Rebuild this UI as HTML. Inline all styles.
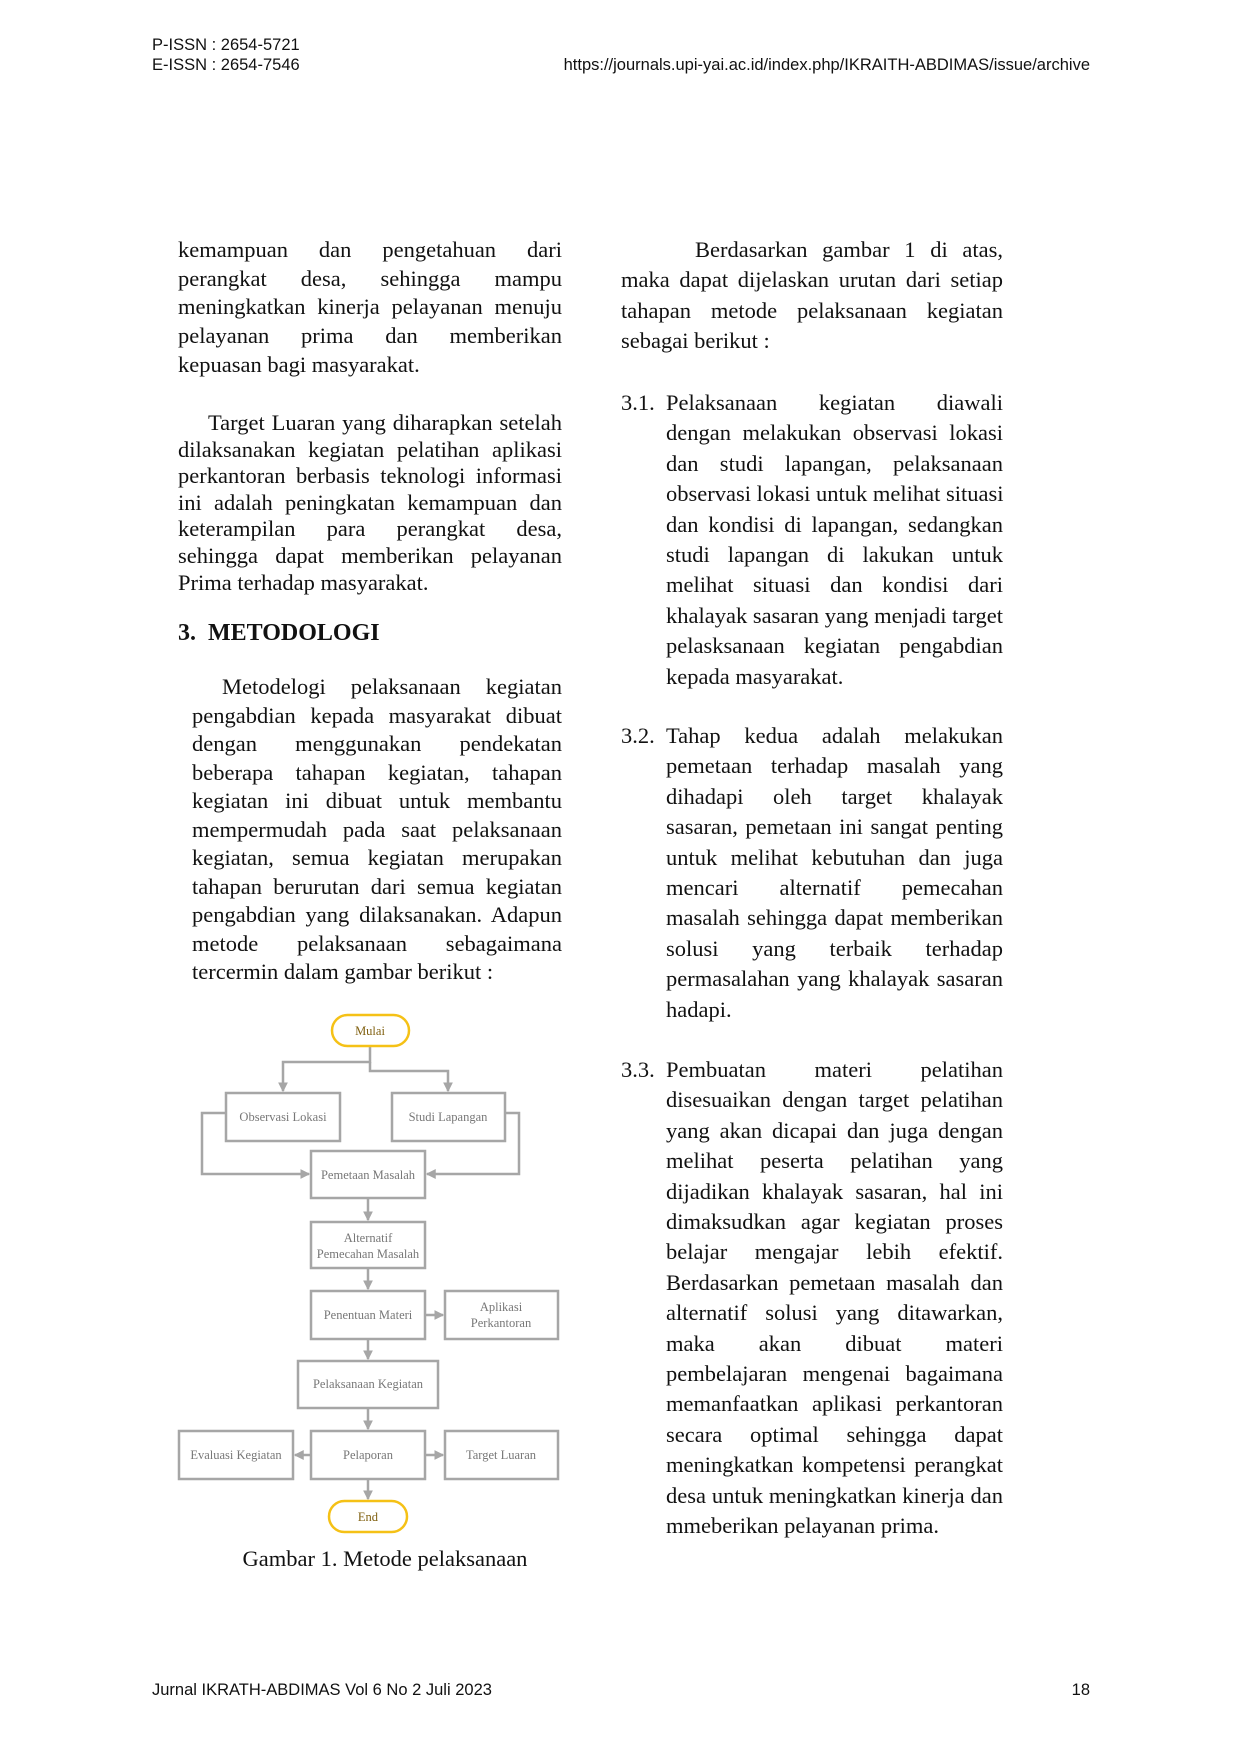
<!DOCTYPE html>
<html><head><meta charset="utf-8"><style>
body{margin:0;background:#fff}
#p{position:relative;width:1240px;height:1754px;overflow:hidden;font-family:"Liberation Serif",serif;color:#111}
.h{position:absolute;font-family:"Liberation Sans",sans-serif;font-size:16.5px;line-height:18px}
.c{position:absolute;font-size:22.5px}
.c div{text-align:justify;text-align-last:justify;white-space:nowrap}
.c div.l{text-align-last:left}
.n{position:absolute;font-size:22.5px}
</style></head><body><div id="p">
<div class="h" style="left:152px;top:36px">P-ISSN : 2654-5721</div>
<div class="h" style="left:152px;top:56px">E-ISSN : 2654-7546</div>
<div class="h" style="right:150px;top:56px">https://journals.upi-yai.ac.id/index.php/IKRAITH-ABDIMAS/issue/archive</div>
<div class="h" style="left:152px;top:1681px">Jurnal IKRATH-ABDIMAS Vol 6 No 2 Juli 2023</div>
<div class="h" style="right:150px;top:1681px">18</div>

<div class="c" style="left:178px;width:384px;top:236px;line-height:28.7px">
<div>kemampuan dan pengetahuan dari</div><div>perangkat desa, sehingga mampu</div><div>meningkatkan kinerja pelayanan menuju</div><div>pelayanan prima dan memberikan</div><div class="l">kepuasan bagi masyarakat.</div></div>

<div class="c" style="left:178px;width:384px;top:410px;line-height:26.6px">
<div style="padding-left:30px">Target Luaran yang diharapkan setelah</div><div>dilaksanakan kegiatan pelatihan aplikasi</div><div>perkantoran berbasis teknologi informasi</div><div>ini adalah peningkatan kemampuan dan</div><div>keterampilan para perangkat desa,</div><div>sehingga dapat memberikan pelayanan</div><div class="l">Prima terhadap masyarakat.</div></div>

<div style="position:absolute;left:178px;top:619px;font-size:24px;font-weight:bold;line-height:28px">3.&nbsp; METODOLOGI</div>

<div class="c" style="left:192px;width:370px;top:673px;line-height:28.5px">
<div style="padding-left:30px">Metodelogi pelaksanaan kegiatan</div><div>pengabdian kepada masyarakat dibuat</div><div>dengan menggunakan pendekatan</div><div>beberapa tahapan kegiatan, tahapan</div><div>kegiatan ini dibuat untuk membantu</div><div>mempermudah pada saat pelaksanaan</div><div>kegiatan, semua kegiatan merupakan</div><div>tahapan berurutan dari semua kegiatan</div><div>pengabdian yang dilaksanakan. Adapun</div><div>metode pelaksanaan sebagaimana</div><div class="l">tercermin dalam gambar berikut :</div></div>

<svg style="position:absolute;left:-2px;top:-9px" width="1240" height="1754">
<defs><marker id="a" markerWidth="4" markerHeight="4" refX="3.5" refY="2" orient="auto" markerUnits="strokeWidth"><path d="M0,0L4,2L0,4z" fill="#a6a6a6"/></marker></defs>
<g fill="none" stroke="#a6a6a6" stroke-width="2.5">
<path d="M372,1055V1071H285V1100" marker-end="url(#a)"/>
<path d="M372,1071V1080H450V1100" marker-end="url(#a)"/>
<path d="M228,1122H204V1183H311" marker-end="url(#a)"/>
<path d="M507,1122H521V1183H429" marker-end="url(#a)"/>
<path d="M370,1207V1229" marker-end="url(#a)"/>
<path d="M370,1277V1298" marker-end="url(#a)"/>
<path d="M427,1324H445" marker-end="url(#a)"/>
<path d="M370,1348V1368" marker-end="url(#a)"/>
<path d="M370,1417V1438" marker-end="url(#a)"/>
<path d="M313,1464H297" marker-end="url(#a)"/>
<path d="M427,1464H445" marker-end="url(#a)"/>
<path d="M370,1488V1508" marker-end="url(#a)"/>
<rect x="228" y="1102" width="114" height="48"/>
<rect x="394" y="1102" width="113" height="48"/>
<rect x="313" y="1160" width="114" height="47"/>
<rect x="313" y="1231" width="114" height="46"/>
<rect x="313" y="1300" width="114" height="48"/>
<rect x="447" y="1300" width="113" height="48"/>
<rect x="300" y="1370" width="140" height="47"/>
<rect x="181" y="1440" width="114" height="48"/>
<rect x="313" y="1440" width="114" height="48"/>
<rect x="447" y="1440" width="113" height="48"/>
</g>
<g fill="none" stroke="#f5c116" stroke-width="2.5">
<rect x="334" y="1024" width="77" height="31" rx="15.5"/>
<rect x="331" y="1510" width="78" height="31" rx="15.5"/>
</g>
<g font-family="Liberation Serif,serif" font-size="12.5" fill="#777" text-anchor="middle">
<text x="285" y="1130">Observasi Lokasi</text>
<text x="450" y="1130">Studi Lapangan</text>
<text x="370" y="1188">Pemetaan Masalah</text>
<text x="370" y="1251">Alternatif</text>
<text x="370" y="1267">Pemecahan Masalah</text>
<text x="370" y="1328">Penentuan Materi</text>
<text x="503" y="1320">Aplikasi</text>
<text x="503" y="1336">Perkantoran</text>
<text x="370" y="1397">Pelaksanaan Kegiatan</text>
<text x="238" y="1468">Evaluasi Kegiatan</text>
<text x="370" y="1468">Pelaporan</text>
<text x="503" y="1468">Target Luaran</text>
<text x="372" y="1044" fill="#806010">Mulai</text>
<text x="370" y="1530" fill="#806010">End</text>
</g>
</svg>
<div class="n" style="left:185px;width:400px;text-align:center;top:1545px;line-height:28px">Gambar 1. Metode pelaksanaan</div>

<div class="c" style="left:621px;width:382px;top:235px;line-height:30.4px">
<div style="padding-left:74px">Berdasarkan gambar 1 di atas,</div><div>maka dapat dijelaskan urutan dari setiap</div><div>tahapan metode pelaksanaan kegiatan</div><div class="l">sebagai berikut :</div></div>

<div class="n" style="left:621px;top:388px;line-height:30.4px">3.1.</div>
<div class="c" style="left:666px;width:337px;top:388px;line-height:30.4px">
<div>Pelaksanaan kegiatan diawali</div><div>dengan melakukan observasi lokasi</div><div>dan studi lapangan, pelaksanaan</div><div>observasi lokasi untuk melihat situasi</div><div>dan kondisi di lapangan, sedangkan</div><div>studi lapangan di lakukan untuk</div><div>melihat situasi dan kondisi dari</div><div>khalayak sasaran yang menjadi target</div><div>pelasksanaan kegiatan pengabdian</div><div class="l">kepada masyarakat.</div></div>

<div class="n" style="left:621px;top:721px;line-height:30.4px">3.2.</div>
<div class="c" style="left:666px;width:337px;top:721px;line-height:30.4px">
<div>Tahap kedua adalah melakukan</div><div>pemetaan terhadap masalah yang</div><div>dihadapi oleh target khalayak</div><div>sasaran, pemetaan ini sangat penting</div><div>untuk melihat kebutuhan dan juga</div><div>mencari alternatif pemecahan</div><div>masalah sehingga dapat memberikan</div><div>solusi yang terbaik terhadap</div><div>permasalahan yang khalayak sasaran</div><div class="l">hadapi.</div></div>

<div class="n" style="left:621px;top:1055px;line-height:30.4px">3.3.</div>
<div class="c" style="left:666px;width:337px;top:1055px;line-height:30.4px">
<div>Pembuatan materi pelatihan</div><div>disesuaikan dengan target pelatihan</div><div>yang akan dicapai dan juga dengan</div><div>melihat peserta pelatihan yang</div><div>dijadikan khalayak sasaran, hal ini</div><div>dimaksudkan agar kegiatan proses</div><div>belajar mengajar lebih efektif.</div><div>Berdasarkan pemetaan masalah dan</div><div>alternatif solusi yang ditawarkan,</div><div>maka akan dibuat materi</div><div>pembelajaran mengenai bagaimana</div><div>memanfaatkan aplikasi perkantoran</div><div>secara optimal sehingga dapat</div><div>meningkatkan kompetensi perangkat</div><div>desa untuk meningkatkan kinerja dan</div><div class="l">mmeberikan pelayanan prima.</div></div>
</div></body></html>
